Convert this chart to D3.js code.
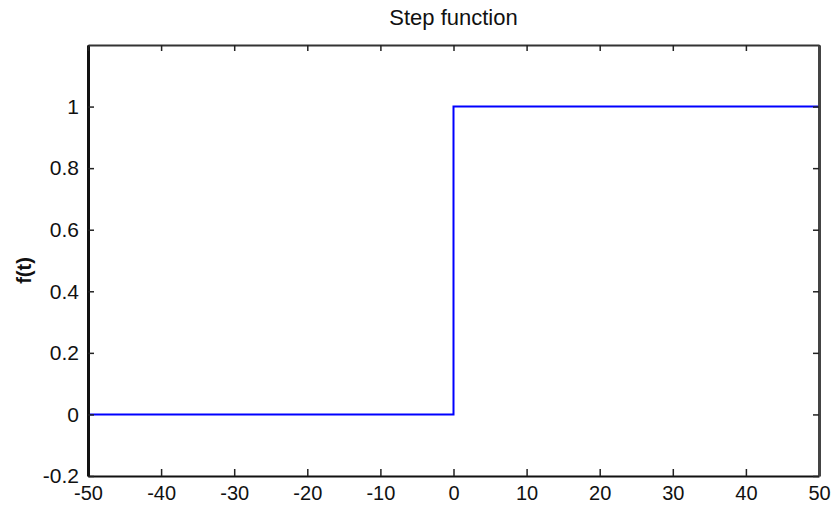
<!DOCTYPE html>
<html>
<head>
<meta charset="utf-8">
<script src="https://cdn.jsdelivr.net/npm/d3@7"></script>
<style>
  body { margin: 0; background: #fff; }
  text { font-family: "Liberation Sans", Arial, sans-serif; fill: #111; }
</style>
</head>
<body>
<div id="chart"></div>
<script>
// step function data
var tValues = [-50, 0, 50];
var fValues = [0, 1, 1];
var xTicks = [-50, -40, -30, -20, -10, 0, 10, 20, 30, 40, 50];
var yTicks = [-0.2, 0, 0.2, 0.4, 0.6, 0.8, 1];
var title = 'Step function';
var yTitle = 'f(t)';

var width = 833,
    height = 506,
    margin = { left: 88, right: 14, top: 45, bottom: 30 };

var chartWidth = width - margin.left - margin.right;
var chartHeight = height - margin.top - margin.bottom;

var svg = d3.select('#chart').append('svg')
    .attr('width', width)
    .attr('height', height);

var xScale = d3.scaleLinear().domain([-50, 50]).range([0, chartWidth]);
var yScale = d3.scaleLinear().domain([-0.2, 1.2]).range([chartHeight, 0]);

var fmt = function (d) { return String(Math.round(d * 10) / 10); };

var g = svg.append('g')
    .attr('transform', 'translate(' + margin.left + ',' + margin.top + ')');

// line
var data = tValues.map(function (t, i) { return { t: t, f: fValues[i] }; });
var line = d3.line()
    .x(function (d) { return xScale(d.t); })
    .y(function (d) { return yScale(d.f); })
    .curve(d3.curveStepAfter);

g.append('path')
    .datum(data)
    .attr('fill', 'none')
    .attr('stroke', '#0000ff')
    .attr('stroke-width', 2)
    .attr('d', line);

// axes
var xAxis = d3.axisBottom(xScale).tickValues(xTicks).tickFormat(fmt)
    .tickSizeInner(-7).tickSizeOuter(0).tickPadding(10);
var yAxis = d3.axisLeft(yScale).tickValues(yTicks).tickFormat(fmt)
    .tickSizeInner(-6).tickSizeOuter(0).tickPadding(9);
var xTop = d3.axisTop(xScale).tickValues(xTicks).tickFormat('')
    .tickSizeInner(-6).tickSizeOuter(0);
var yRight = d3.axisRight(yScale).tickValues(yTicks).tickFormat('')
    .tickSizeInner(-6).tickSizeOuter(0);

var gx = g.append('g').attr('transform', 'translate(0,' + chartHeight + ')').call(xAxis);
var gy = g.append('g').call(yAxis);
var gt = g.append('g').call(xTop);
var gr = g.append('g').attr('transform', 'translate(' + chartWidth + ',0)').call(yRight);

[gx, gy, gt, gr].forEach(function (a) {
    a.selectAll('text').style('font-size', '21px').attr('fill', '#111')
        .style('font-family', '"Liberation Sans", Arial, sans-serif');
    a.selectAll('.tick line').attr('stroke', '#222').attr('stroke-width', 1.5);
});
gx.selectAll('text').style('font-size', '20px');
gx.select('.domain').attr('stroke', '#111').attr('stroke-width', 2);
gy.select('.domain').attr('stroke', '#111').attr('stroke-width', 3);
gt.select('.domain').attr('stroke', '#333').attr('stroke-width', 2);
gr.select('.domain').attr('stroke', '#444').attr('stroke-width', 3);

// titles
svg.append('text')
    .attr('x', margin.left + xScale(0))
    .attr('y', 25)
    .attr('text-anchor', 'middle')
    .style('font-size', '22px')
    .text(title);

svg.append('text')
    .attr('transform', 'translate(31,' + (margin.top + chartHeight / 2 + 10) + ') rotate(-90)')
    .attr('text-anchor', 'middle')
    .style('font-size', '20px')
    .style('font-weight', 'bold')
    .text(yTitle);
</script>
</body>
</html>
